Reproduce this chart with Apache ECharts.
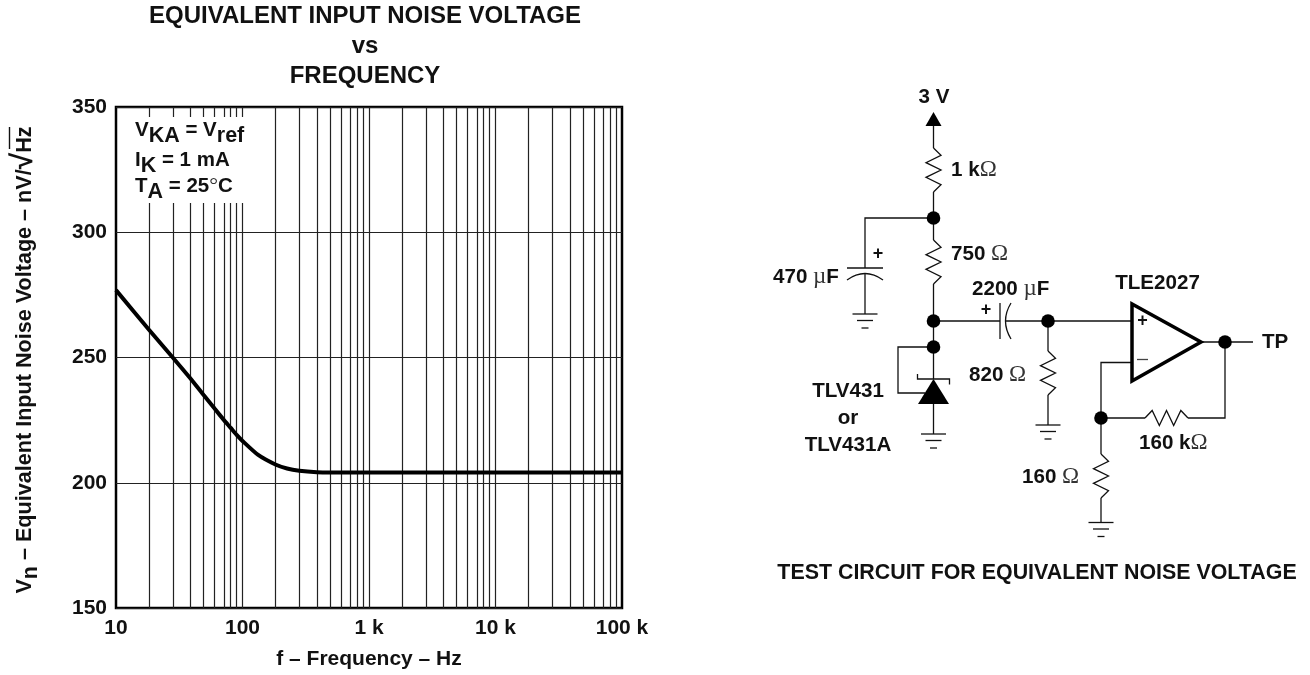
<!DOCTYPE html>
<html>
<head>
<meta charset="utf-8">
<title>Equivalent input noise voltage vs frequency</title>
<script src="https://cdn.jsdelivr.net/npm/echarts@6/dist/echarts.min.js"></script>
<style>
  html, body { margin: 0; padding: 0; background: #fff; }
  #chart { width: 1310px; height: 675px; }
</style>
</head>
<body>
<div id="chart"></div>
<script>
const frequencies = [10, 18.3, 28.1, 38.5, 49.3, 60.6, 71.4, 80.7, 89.9, 100, 133, 182, 225, 281, 387, 500, 1000, 10000, 100000]
const noiseVoltage = [276.9, 261, 250, 241.8, 235, 229.4, 225, 221.9, 219.1, 216.7, 211.1, 207.3, 205.7, 204.8, 204.2, 204.1, 204.1, 204.1, 204.1]
const xTickValues = [10, 100, 1000, 10000, 100000]
const xTickLabels = ['10', '100', '1 k', '10 k', '100 k']
const yTickValues = [150, 200, 250, 300, 350]
// the vertical grid as printed, it is not quite a true log spacing
const gridFrequencies = [
  18.3, 28.1, 38.7, 49.2, 60.2, 71.4, 80.7, 89.8, 100,
  183, 281, 387, 492, 602, 714, 807, 898, 1000,
  1830, 2810, 3870, 4920, 6020, 7140, 8070, 8980, 10000,
  18300, 28100, 38700, 49200, 60200, 71400, 80700, 89800
]

const FONT = '"Liberation Sans", Arial, sans-serif'
const INK = '#111'
const WIRE = 1.3

var chart = echarts.init(document.getElementById('chart'), null, { renderer: 'canvas' })

const rich = {
  o: { fontFamily: '"Liberation Serif"', fontWeight: 'normal', fontSize: 23, fill: '#333' },
  s: { fontFamily: FONT, fontWeight: 'bold', fontSize: 21.5, fill: INK, padding: [6, 0, 0, 0] },
  m: { fontFamily: FONT, fontWeight: 'bold', fontSize: 20.5, fill: INK, padding: [0, 0, 6, 0] },
  d: { fontFamily: '"Liberation Serif"', fontWeight: 'normal', fontSize: 22, fill: '#333', padding: [0, 0, 6, 0] }
}

function label(text, x, y, align, size) {
  return {
    type: 'text', z: 20, silent: true,
    style: {
      text: text, x: x, y: y, align: align || 'left', verticalAlign: 'middle',
      fontFamily: FONT, fontWeight: 'bold', fontSize: size || 20.6, fill: INK, rich: rich
    }
  }
}
function wire(points, width) {
  return {
    type: 'polyline', z: 20, silent: true,
    shape: { points: points },
    style: { stroke: INK, lineWidth: width || WIRE, fill: null, lineJoin: 'miter' }
  }
}
function dot(x, y) {
  return { type: 'circle', z: 21, silent: true, shape: { cx: x, cy: y, r: 6.8 }, style: { fill: '#000' } }
}
function ground(x, y) {
  return [
    wire([[x - 12.5, y], [x + 12.5, y]]),
    wire([[x - 8, y + 6.5], [x + 8, y + 6.5]]),
    wire([[x - 3.5, y + 14], [x + 3.5, y + 14]])
  ]
}
// vertical resistor, three teeth each side
function resistorV(x, y0, y1) {
  const h = (y1 - y0) / 6, w = 7.5
  return wire([[x, y0], [x + w, y0 + h], [x - w, y0 + 2 * h], [x + w, y0 + 3 * h], [x - w, y0 + 4 * h], [x + w, y0 + 5 * h], [x, y1]])
}
function resistorH(x0, x1, y) {
  const h = (x1 - x0) / 6, w = 7.5
  return wire([[x0, y], [x0 + h, y - w], [x0 + 2 * h, y + w], [x0 + 3 * h, y - w], [x0 + 4 * h, y + w], [x0 + 5 * h, y - w], [x1, y]])
}
function arc(p0, c, p1) {
  return {
    type: 'bezierCurve', z: 20, silent: true,
    shape: { x1: p0[0], y1: p0[1], cpx1: c[0], cpy1: c[1], x2: p1[0], y2: p1[1] },
    style: { stroke: INK, lineWidth: WIRE, fill: null }
  }
}

const circuit = [
  // supply rail
  label('3 V', 934, 97, 'center'),
  { type: 'polygon', z: 20, silent: true, shape: { points: [[933.5, 112], [925.5, 126], [941.5, 126]] }, style: { fill: '#000' } },
  wire([[933.5, 126], [933.5, 148]]),
  resistorV(933.5, 148, 192),
  wire([[933.5, 192], [933.5, 240]]),
  dot(933.5, 218),
  resistorV(933.5, 240, 284),
  wire([[933.5, 284], [933.5, 379]]),
  dot(933.5, 321),
  dot(933.5, 347),
  label('1 k{o|Ω}', 951, 170),
  label('750 {o|Ω}', 951, 254),

  // 470 uF to ground
  wire([[933.5, 218], [865, 218], [865, 268]]),
  wire([[847, 268], [883, 268]]),
  arc([847, 280], [865, 267], [883, 280]),
  wire([[865, 273.5], [865, 314]]),
].concat(ground(865, 314), [
  label('+', 878, 254.5, 'center', 18),
  label('470 {o|µ}F', 773, 277),

  // coupling cap and load
  wire([[933.5, 321], [1000, 321]]),
  wire([[1000, 303], [1000, 339]]),
  arc([1011, 303], [1000, 321], [1011, 339]),
  wire([[1005.5, 321], [1131, 321]]),
  dot(1048, 321),
  label('2200 {o|µ}F', 972, 289),
  label('+', 986, 310, 'center', 18),
  wire([[1048, 321], [1048, 351]]),
  resistorV(1048, 351, 395),
  wire([[1048, 395], [1048, 425]]),
]).concat(ground(1048, 425), [
  label('820 {o|Ω}', 969, 375),

  // TLV431
  wire([[933.5, 347], [898, 347], [898, 393], [925, 393]]),
  { type: 'polygon', z: 20, silent: true, shape: { points: [[933.5, 379], [918, 404], [949, 404]] }, style: { fill: '#000' } },
  wire([[917.5, 374], [917.5, 379], [949.5, 379], [949.5, 384.5]]),
  wire([[933.5, 404], [933.5, 434]]),
]).concat(ground(933.5, 434), [
  label('TLV431', 848, 391, 'center'),
  label('or', 848, 418, 'center'),
  label('TLV431A', 848, 445, 'center'),

  // op amp
  {
    type: 'polygon', z: 22, silent: true,
    shape: { points: [[1132, 304], [1132, 381], [1201, 342]] },
    style: { stroke: '#000', lineWidth: 3.5, fill: '#fff', lineJoin: 'miter' }
  },
  label('TLE2027', 1157.5, 283, 'center'),
  wire([[1201, 342], [1253, 342]]),
  dot(1225, 342),
  label('TP', 1262, 342),
  wire([[1225, 342], [1225, 418], [1188, 418]]),
  resistorH(1145, 1188, 418),
  wire([[1145, 418], [1101, 418]]),
  wire([[1131, 362.5], [1101, 362.5], [1101, 454]]),
  dot(1101, 418),
  label('160 k{o|Ω}', 1139, 443),
  resistorV(1101, 454, 498),
  wire([[1101, 498], [1101, 522.5]]),
]).concat(ground(1101, 522.5), [
  label('160 {o|Ω}', 1022, 477),
  label('TEST CIRCUIT FOR EQUIVALENT NOISE VOLTAGE', 1037, 573, 'center', 21.4)
])

// + and - of the op amp sit above its white fill
circuit.push(Object.assign(label('+', 1142.5, 321, 'center', 18), { z: 23 }))
circuit.push({ type: 'line', z: 23, silent: true, shape: { x1: 1137, y1: 359.5, x2: 1148, y2: 359.5 }, style: { stroke: '#444', lineWidth: 1.3 } })

const annotation = [
  { type: 'rect', z: 10, silent: true, shape: { x: 119, y: 117, width: 126, height: 86 }, style: { fill: '#fff' } },
  label('{m|V}{s|KA}{m| = V}{s|ref}', 135, 133),
  label('{m|I}{s|K}{m| = 1 mA}', 135, 163),
  label('{m|T}{s|A}{m| = 25}{d|°}{m|C}', 135, 189),
  // bar over Hz, the radical itself comes from the axis name
  wire([[9.5, 127], [9.5, 149]], 1.4)
]

var option = {
  animation: false,
  backgroundColor: '#fff',
  textStyle: { fontFamily: FONT },
  title: {
    text: 'EQUIVALENT INPUT NOISE VOLTAGE\nvs\nFREQUENCY',
    left: 365, top: 1, textAlign: 'center', padding: 0,
    textStyle: { fontFamily: FONT, fontWeight: 'bold', fontSize: 24, lineHeight: 30, color: INK }
  },
  grid: { left: 116, right: 688, top: 107, bottom: 67, show: true, borderColor: '#000', borderWidth: 2.5, backgroundColor: 'transparent', outerBoundsMode: 'none' },
  xAxis: {
    type: 'log', logBase: 10, min: 10, max: 100000,
    axisLine: { show: false }, axisTick: { show: false },
    splitLine: { show: false },
    axisLabel: {
      fontFamily: FONT, fontWeight: 'bold', fontSize: 21, color: INK, margin: 10,
      showMinLabel: true, showMaxLabel: true,
      formatter: v => xTickLabels[xTickValues.indexOf(Math.round(v))] || ''
    },
    name: 'f – Frequency – Hz', nameLocation: 'middle', nameGap: 41,
    nameTextStyle: { fontFamily: FONT, fontWeight: 'bold', fontSize: 21, color: INK }
  },
  yAxis: {
    type: 'value', min: yTickValues[0], max: yTickValues[yTickValues.length - 1], interval: 50,
    axisLine: { show: false }, axisTick: { show: false },
    axisLabel: { fontFamily: FONT, fontWeight: 'bold', fontSize: 21, color: INK, margin: 9 },
    splitLine: { show: true, lineStyle: { color: '#222', width: 1.2 } },
    name: '{m|V}{s|n}{m| – Equivalent Input Noise Voltage – nV/}{r|√}{m|Hz}', nameLocation: 'middle', nameGap: 68,
    nameTextStyle: { padding: [0, 5, 0, 0], rich: {
      m: { fontFamily: FONT, fontWeight: 'bold', fontSize: 21.6, color: INK, padding: [0, 0, 6, 0] },
      s: { fontFamily: FONT, fontWeight: 'bold', fontSize: 21.5, color: INK, padding: [6, 0, 0, 0] },
      r: { fontFamily: FONT, fontWeight: 'bold', fontSize: 30, color: INK, padding: [0, 0, 9, 0] }
    } }
  },
  graphic: { elements: annotation.concat(circuit) },
  series: [{
    type: 'line',
    data: frequencies.map((f, i) => [f, noiseVoltage[i]]),
    showSymbol: false, smooth: 0.2, silent: true, clip: true, z: 5,
    lineStyle: { color: '#000', width: 4 },
    markLine: {
      silent: true, symbol: 'none', animation: false, z: 1,
      label: { show: false },
      lineStyle: { color: '#222', width: 1.2, type: 'solid' },
      data: gridFrequencies.map(f => ({ xAxis: f }))
    }
  }]
}
chart.setOption(option)
</script>
</body>
</html>
